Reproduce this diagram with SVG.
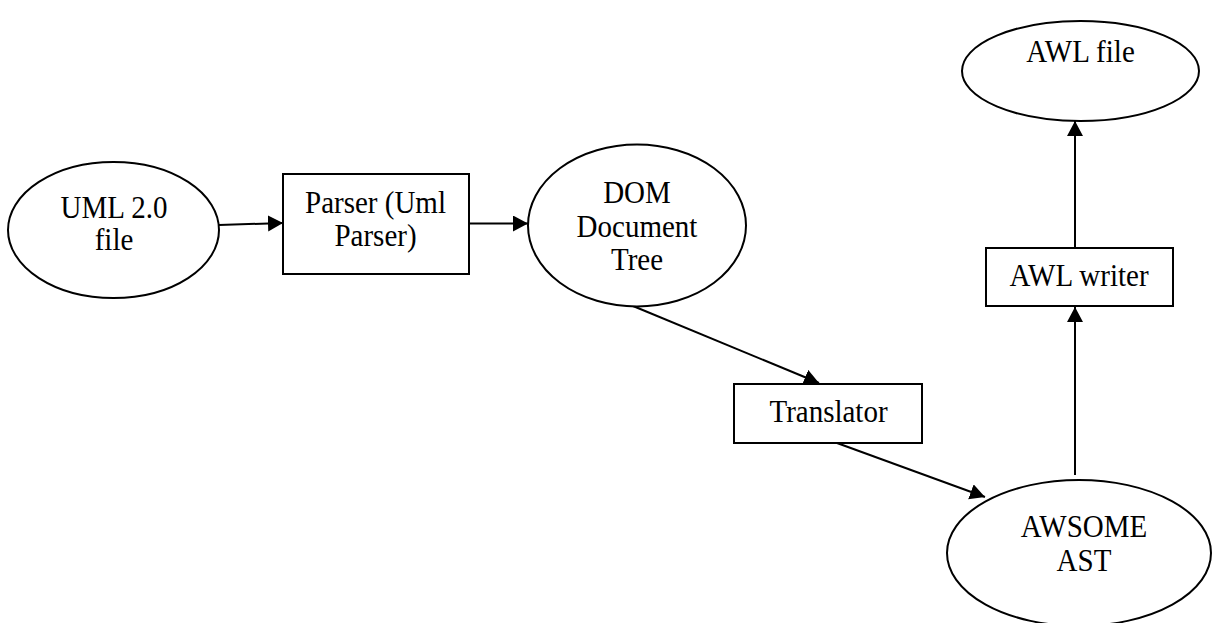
<svg xmlns="http://www.w3.org/2000/svg" width="1213" height="623" viewBox="0 0 1213 623">
  <defs>
    <marker id="arrow" markerUnits="userSpaceOnUse" markerWidth="17" markerHeight="17" refX="15" refY="8" orient="auto">
      <path d="M0,0 L15,8 L0,16 Z" fill="#000"/>
    </marker>
    <style>
      .shape { fill: #fff; stroke: #000; stroke-width: 2; }
      .label { font-family: "Liberation Serif", "Times New Roman", serif; font-size: 29px; fill: #000; text-anchor: middle; }
      .edge { stroke: #000; stroke-width: 2; fill: none; marker-end: url(#arrow); }
    </style>
  </defs>
  <rect width="1213" height="623" fill="#fff"/>

  <!-- connectors -->
  <g id="connectors">
    <line class="edge" x1="219" y1="225" x2="283" y2="223"/>
    <line class="edge" x1="469" y1="223.5" x2="528" y2="223.5"/>
    <line class="edge" x1="633" y1="306" x2="819" y2="383"/>
    <line class="edge" x1="837" y1="443" x2="985" y2="497"/>
    <line class="edge" x1="1075" y1="475" x2="1075" y2="307"/>
    <line class="edge" x1="1075" y1="248" x2="1075" y2="121"/>
  </g>

  <!-- labels use a slightly tall serif face -->
  <g id="uml-file">
    <ellipse class="shape" cx="113.5" cy="230" rx="105.5" ry="68"/>
    <text class="label" transform="translate(114,217.5) scale(1,1.08)">UML 2.0</text>
    <text class="label" transform="translate(114,250) scale(1,1.08)">file</text>
  </g>

  <g id="parser">
    <rect class="shape" x="283" y="174" width="186" height="100"/>
    <text class="label" transform="translate(375.5,213) scale(1,1.08)">Parser (Uml</text>
    <text class="label" transform="translate(375.5,246) scale(1,1.08)">Parser)</text>
  </g>

  <g id="dom-tree">
    <ellipse class="shape" cx="637" cy="225.5" rx="109" ry="81"/>
    <text class="label" transform="translate(637,202.5) scale(1,1.08)">DOM</text>
    <text class="label" transform="translate(637,236.5) scale(1,1.08)">Document</text>
    <text class="label" transform="translate(637,270) scale(1,1.08)">Tree</text>
  </g>

  <g id="translator">
    <rect class="shape" x="734" y="384" width="188" height="59"/>
    <text class="label" transform="translate(828.5,421.5) scale(1,1.08)">Translator</text>
  </g>

  <g id="awsome-ast">
    <ellipse class="shape" cx="1079" cy="553" rx="132" ry="73"/>
    <text class="label" transform="translate(1084,536.5) scale(1,1.08)">AWSOME</text>
    <text class="label" transform="translate(1084,570.5) scale(1,1.08)">AST</text>
  </g>

  <g id="awl-writer">
    <rect class="shape" x="986" y="248" width="187" height="58"/>
    <text class="label" transform="translate(1079,286) scale(1,1.08)">AWL writer</text>
  </g>

  <g id="awl-file">
    <ellipse class="shape" cx="1080.5" cy="71" rx="118.5" ry="50"/>
    <text class="label" transform="translate(1080.5,61.5) scale(1,1.08)">AWL file</text>
  </g>
</svg>
